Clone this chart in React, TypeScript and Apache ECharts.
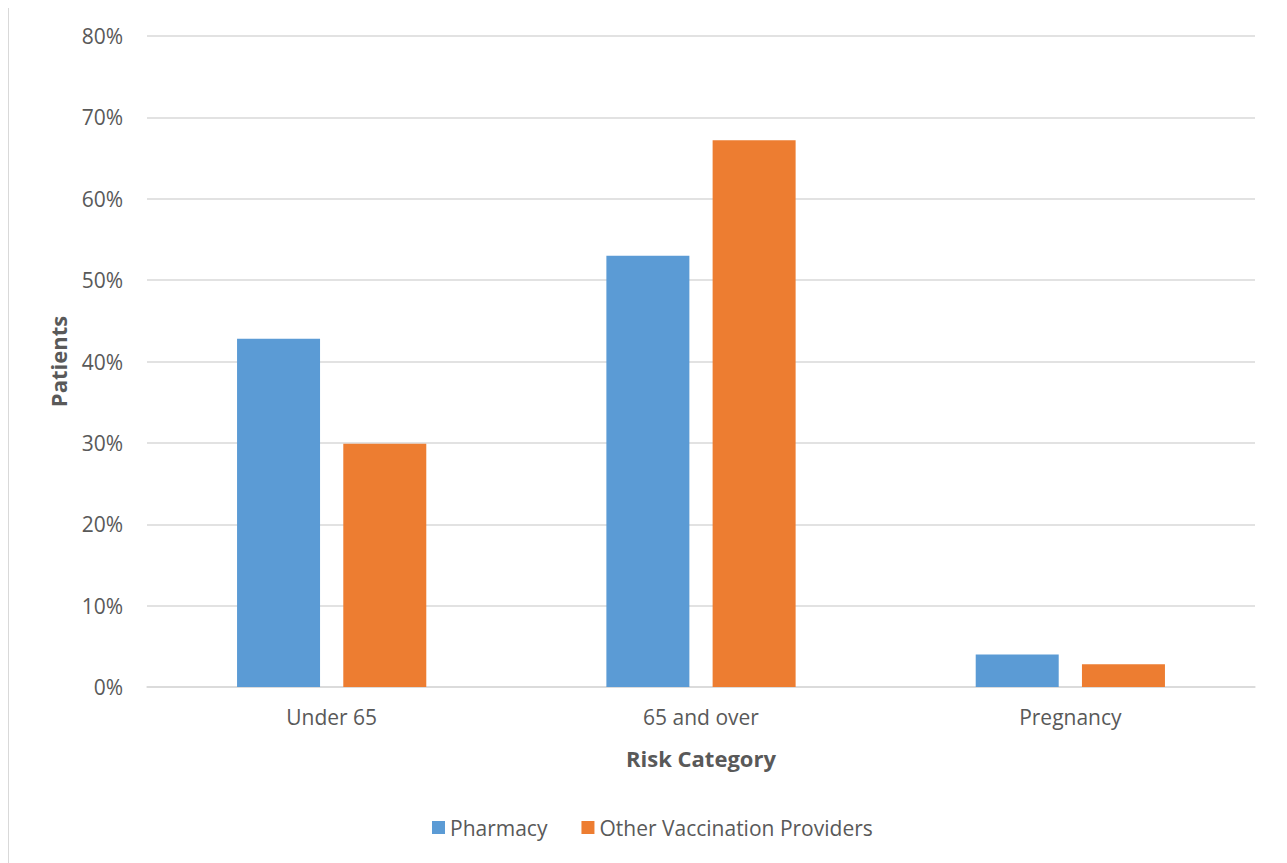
import React, { useEffect, useRef } from "react";
import * as echarts from "echarts";

const categories = ["Under 65", "65 and over", "Pregnancy"];
const pharmacy = [42.8, 53.0, 4.0];
const otherProviders = [29.9, 67.2, 2.8];
const seriesNames = ["Pharmacy", "Other Vaccination Providers"];

const FONT = "'Open Sans', 'Noto Sans', sans-serif";
const TEXT = "#595959";

export default function App() {
  const ref = useRef<HTMLDivElement>(null);
  useEffect(() => {
    if (!ref.current) return;
    const chart = echarts.init(ref.current, undefined, { renderer: "svg" });
    chart.setOption({
      animation: false,
      textStyle: { fontFamily: FONT },
      grid: { left: 138, right: 30, top: 28, bottom: 176, containLabel: false },
      legend: {
        bottom: 20,
        left: 418,
        itemWidth: 13,
        itemHeight: 13,
        itemGap: 34,
        icon: "rect",
        textStyle: { color: TEXT, fontSize: 21, fontFamily: FONT },
        data: seriesNames,
      },
      xAxis: {
        type: "category",
        data: categories,
        name: "Risk Category",
        nameLocation: "middle",
        nameGap: 60,
        nameTextStyle: { color: TEXT, fontSize: 22, fontWeight: "bold", fontFamily: FONT },
        axisLine: { lineStyle: { color: "#D9D9D9", width: 1.5 } },
        axisTick: { show: false },
        axisLabel: { color: TEXT, fontSize: 21, margin: 19, fontFamily: FONT },
      },
      yAxis: {
        type: "value",
        min: 0,
        max: 80,
        interval: 10,
        name: "Patients",
        nameLocation: "middle",
        nameGap: 78,
        nameTextStyle: { color: TEXT, fontSize: 22, fontWeight: "bold", fontFamily: FONT },
        axisLine: { show: false },
        axisTick: { show: false },
        splitLine: { lineStyle: { color: "#D9D9D9", width: 1.5 } },
        axisLabel: { color: TEXT, fontSize: 21, margin: 24, formatter: "{value}%", fontFamily: FONT },
      },
      series: [
        {
          name: seriesNames[0],
          type: "bar",
          data: pharmacy,
          barWidth: 83,
          barGap: "28%",
          itemStyle: { color: "#5B9BD5" },
        },
        {
          name: seriesNames[1],
          type: "bar",
          data: otherProviders,
          barWidth: 83,
          barGap: "28%",
          itemStyle: { color: "#ED7D31" },
        },
      ],
    });
    return () => chart.dispose();
  }, []);
  return (
    <div
      ref={ref}
      style={{
        width: 1278,
        height: 856,
        marginTop: -1,
        boxSizing: "border-box",
        borderTop: "1px solid #D9D9D9",
        borderLeft: "1px solid #D9D9D9",
        borderRight: "1px solid #D9D9D9",
        background: "#fff",
      }}
    />
  );
}
